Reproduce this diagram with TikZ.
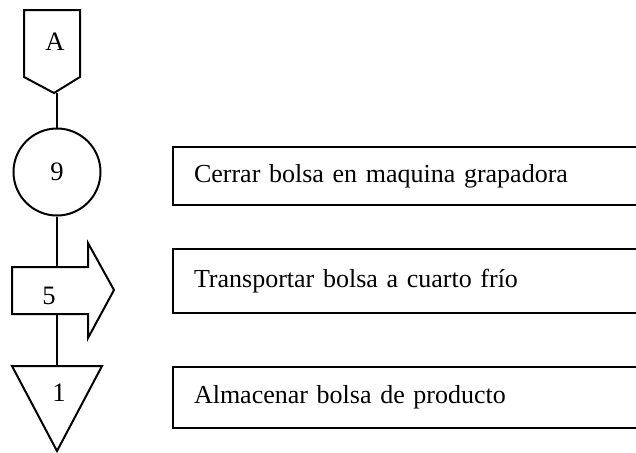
\documentclass[tikz,border=0pt]{standalone}
\usepackage{fontspec}
\setmainfont{Liberation Serif}
\usepackage{tikz}
\usetikzlibrary{positioning,calc}
\tikzset{
    simbolo/.style={draw=black, line width=1pt, line join=miter},
    etiqueta/.style={font=\fontsize{13.3}{16}\selectfont, inner sep=0pt},
    enlace/.style={draw=black, line width=1pt},
    caja/.style={draw=black, line width=1pt, anchor=west, minimum width=244pt,
        text width=223pt, align=left, inner xsep=10.5pt, inner ysep=0pt,
        font=\fontsize{13}{16}\selectfont}
}
\begin{document}
\begin{tikzpicture}[x=0.5pt, y=-0.5pt]
    \useasboundingbox (0,0) rectangle (636,452);
    \clip (0,0) rectangle (636,452);
    % conector de pagina A
    \draw[simbolo] (24,10) -- (80,10) -- (80,77) -- (54,93) coordinate (A-pico) -- (24,77) -- cycle;
    \node[etiqueta] (A) at (55,42) {A};
    % operacion 9
    \node[simbolo, circle, minimum size=43.5pt, etiqueta] (op9) at (57,172) {9};
    % transporte 5
    \draw[simbolo] (12,267) coordinate (tr-ni) -- (88,267) -- (88,243) -- (114,290)
        -- (88,338) -- (88,314) -- (12,314) coordinate (tr-si) -- cycle;
    \node[etiqueta] (tr5) at (49,296) {5};
    % almacenamiento 1
    \draw[simbolo] (12,366) coordinate (al-ni) -- (102,366) -- (57,451) -- cycle;
    \node[etiqueta] (al1) at (59,393) {1};
    % uniones
    \draw[enlace] (op9.north |- A-pico) -- (op9.north);
    \draw[enlace] (op9.south) -- (op9.south |- tr-ni);
    \draw[enlace] (op9.south |- tr-si) -- (op9.south |- al-ni);
    % descripciones
    \node[caja, minimum height=29pt] (d9) at (172,176) {Cerrar bolsa en maquina grapadora};
    \node[caja, minimum height=32pt] (d5) at (172,281) {Transportar bolsa a cuarto frío};
    \node[caja, minimum height=30.5pt] (d1) at (172,397.5) {Almacenar bolsa de producto};
\end{tikzpicture}
\end{document}
